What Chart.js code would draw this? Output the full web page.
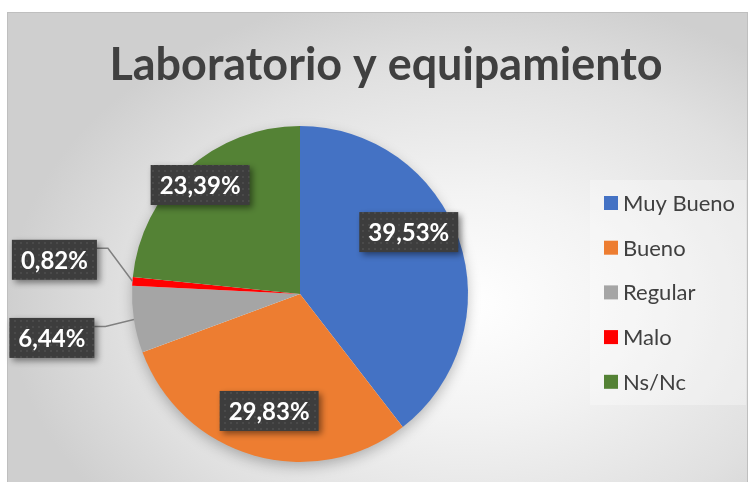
<!DOCTYPE html>
<html>
<head>
<meta charset="utf-8">
<script src="https://cdn.jsdelivr.net/npm/chart.js@4.4.0/dist/chart.umd.min.js"></script>
<style>
  html, body { margin: 0; padding: 0; background: #fff; }
  #wrap { position: relative; width: 750px; height: 482px; overflow: hidden; }
  #frame {
    position: absolute; left: 7px; top: 12px; width: 741px; height: 472px;
    border: 1px solid #bfbfbf; box-sizing: border-box;
    background: radial-gradient(ellipse 62% 68% at 62% 62%, #ffffff 0%, #f3f3f3 35%, #e0e0e0 75%, #cfcfcf 100%);
  }
  #chart { position: absolute; left: 0; top: 0; }
</style>
</head>
<body>
<div id="wrap">
  <div id="frame"></div>
  <canvas id="chart" width="750" height="482"></canvas>
</div>
<script>
// ----- DATA -----
const title = 'Laboratorio y equipamiento'
const categories = ['Muy Bueno', 'Bueno', 'Regular', 'Malo', 'Ns/Nc']
const percents = [39.53, 29.83, 6.44, 0.82, 23.39]
const colors = ['#4472C4', '#ED7D31', '#A5A5A5', '#FF0000', '#548235']

// label placement per slice: shift from mid angle (deg) and radius factor
const labelPlace = [
  { shift: -10.8, r: 0.745 },
  { shift: -1.2, r: 0.72 },
  { shift: -1.3, r: 1.5, leader: true },
  { shift: 3.6, r: 1.476, leader: true },
  { shift: -0.4, r: 0.88 },
]

const fmt = (v) => v.toFixed(2).replace('.', ',') + '%'

// dotted pattern for the label boxes
function makePattern(ctx) {
  const c = document.createElement('canvas')
  c.width = 6
  c.height = 6
  const p = c.getContext('2d')
  p.fillStyle = '#3d3d3d'
  p.fillRect(0, 0, 6, 6)
  p.fillStyle = '#4a4a4a'
  p.fillRect(2, 2, 2, 2)
  return ctx.createPattern(c, 'repeat')
}

// ----- PLUGINS -----
const pieShadow = {
  id: 'pieShadow',
  beforeDatasetsDraw(chart) {
    const arc = chart.getDatasetMeta(0).data[0]
    if (!arc) return
    const ctx = chart.ctx
    ctx.save()
    ctx.shadowColor = 'rgba(0,0,0,0.28)'
    ctx.shadowBlur = 14
    ctx.shadowOffsetY = 5
    ctx.fillStyle = '#ffffff'
    ctx.beginPath()
    ctx.arc(arc.x, arc.y, arc.outerRadius - 1, 0, Math.PI * 2)
    ctx.fill()
    ctx.restore()
  },
}

const titleAndLegend = {
  id: 'titleAndLegend',
  afterDraw(chart) {
    const ctx = chart.ctx
    ctx.save()
    // title
    ctx.font = 'bold 46px Lato'
    const w = ctx.measureText(title).width
    ctx.translate(386, 80)
    ctx.scale(553 / w, 1)
    ctx.fillStyle = '#404040'
    ctx.textAlign = 'center'
    ctx.textBaseline = 'alphabetic'
    ctx.fillText(title, 0, 0)
    ctx.restore()

    // legend
    ctx.save()
    ctx.fillStyle = 'rgba(255,255,255,0.3)'
    ctx.fillRect(590, 180, 156, 225)
    ctx.font = '22px Lato'
    ctx.textBaseline = 'middle'
    categories.forEach((c, i) => {
      const y = 203 + i * 44.7
      ctx.fillStyle = colors[i]
      ctx.fillRect(604, y - 7, 14, 14)
      ctx.fillStyle = '#404040'
      ctx.fillText(c, 623, y + 1)
    })
    ctx.restore()
  },
}

const sliceLabels = {
  id: 'sliceLabels',
  afterDatasetsDraw(chart) {
    const ctx = chart.ctx
    const meta = chart.getDatasetMeta(0)
    const pattern = makePattern(ctx)
    meta.data.forEach((arc, i) => {
      const mid = (arc.startAngle + arc.endAngle) / 2
      const pl = labelPlace[i]
      const a = mid + (pl.shift * Math.PI) / 180
      const cx = arc.x + Math.cos(a) * arc.outerRadius * pl.r
      const cy = arc.y + Math.sin(a) * arc.outerRadius * pl.r
      const txt = fmt(percents[i])
      ctx.save()
      ctx.font = 'bold 24px Lato'
      const tw = ctx.measureText(txt).width
      const bw = tw + 18
      const bh = 40
      const bx = cx - bw / 2
      const by = cy - bh / 2

      if (pl.leader) {
        const ex = arc.x + Math.cos(mid) * arc.outerRadius
        const ey = arc.y + Math.sin(mid) * arc.outerRadius
        ctx.strokeStyle = '#808080'
        ctx.lineWidth = 1.5
        ctx.beginPath()
        ctx.moveTo(bx + bw, by + 8.5)
        ctx.lineTo(bx + bw + 11, by + 8.5)
        ctx.lineTo(ex, ey)
        ctx.stroke()
      }

      ctx.shadowColor = 'rgba(0,0,0,0.45)'
      ctx.shadowBlur = 6
      ctx.shadowOffsetX = 3
      ctx.shadowOffsetY = 3
      ctx.fillStyle = pattern
      ctx.fillRect(bx, by, bw, bh)
      ctx.shadowColor = 'transparent'
      ctx.fillStyle = '#ffffff'
      ctx.textAlign = 'center'
      ctx.textBaseline = 'middle'
      ctx.fillText(txt, cx, cy + 1)
      ctx.restore()
    })
  },
}

// ----- CHART -----
new Chart(document.getElementById('chart').getContext('2d'), {
  type: 'pie',
  data: {
    labels: categories,
    datasets: [
      {
        data: percents,
        backgroundColor: colors,
        borderWidth: 0,
        hoverOffset: 0,
      },
    ],
  },
  options: {
    responsive: false,
    animation: false,
    events: [],
    layout: { padding: { left: 132, right: 282, top: 126, bottom: 20 } },
    plugins: {
      legend: { display: false },
      title: { display: false },
      tooltip: { enabled: false },
    },
  },
  plugins: [pieShadow, sliceLabels, titleAndLegend],
})
</script>
</body>
</html>
